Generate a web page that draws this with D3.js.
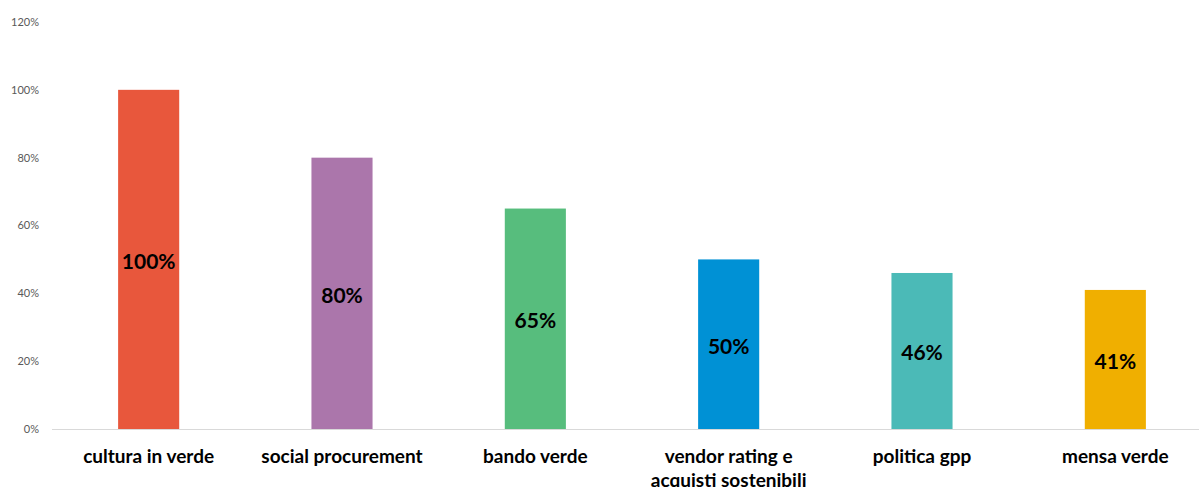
<!DOCTYPE html>
<html>
<head>
<meta charset="utf-8">
<script src="https://cdn.jsdelivr.net/npm/d3@7"></script>
<style>
  body { margin: 0; background: #fff; }
  svg { display: block; }
  .tick-label { font-family: "Lato", "Open Sans", sans-serif; font-size: 11px; fill: #595959; }
  .cat-label { font-family: "Lato", "Open Sans", sans-serif; font-size: 19px; font-weight: bold; fill: #000; }
  .val-label { font-family: "Lato", "Open Sans", sans-serif; font-size: 21px; font-weight: bold; fill: #000; }
</style>
</head>
<body>
<svg id="chart" width="1199" height="487"></svg>
<script>
// data
var categories = ['cultura in verde', 'social procurement', 'bando verde', 'vendor rating e|acquisti sostenibili', 'politica gpp', 'mensa verde'];
var values = [100, 80, 65, 50, 46, 41];
var valueLabels = ['100%', '80%', '65%', '50%', '46%', '41%'];
var colors = ['#E8573C', '#AB76AB', '#57BD7D', '#0091D5', '#4BBAB7', '#F0AF00'];
var yTicks = [0, 20, 40, 60, 80, 100, 120];

var svg = d3.select('#chart');

var x = d3.scaleBand()
    .domain(categories)
    .range([52, 1212])
    .paddingInner(0.684)
    .paddingOuter(0.342);

var y = d3.scaleLinear()
    .domain([0, 120])
    .range([429, 22]);

// y tick labels (no axis line, no grid)
svg.append('g').selectAll('text')
    .data(yTicks)
    .enter()
    .append('text')
    .attr('class', 'tick-label')
    .attr('x', 39)
    .attr('y', function(d) { return y(d); })
    .attr('dy', '0.35em')
    .attr('text-anchor', 'end')
    .text(function(d) { return d + '%'; });

// bars
svg.append('g').selectAll('rect')
    .data(values)
    .enter()
    .append('rect')
    .attr('x', function(d, i) { return x(categories[i]); })
    .attr('y', function(d) { return y(d); })
    .attr('width', x.bandwidth())
    .attr('height', function(d) { return y(0) - y(d); })
    .attr('fill', function(d, i) { return colors[i]; });

// baseline
svg.append('line')
    .attr('x1', 52)
    .attr('x2', 1199)
    .attr('y1', y(0) + 0.5)
    .attr('y2', y(0) + 0.5)
    .attr('stroke', '#D9D9D9')
    .attr('stroke-width', 1);

// value labels, centred in bar
svg.append('g').selectAll('text')
    .data(values)
    .enter()
    .append('text')
    .attr('class', 'val-label')
    .attr('x', function(d, i) { return x(categories[i]) + x.bandwidth() / 2; })
    .attr('y', function(d) { return (y(d) + y(0)) / 2 + 2; })
    .attr('dy', '0.35em')
    .attr('text-anchor', 'middle')
    .text(function(d, i) { return valueLabels[i]; });

// category labels (second line is cut at the bottom edge, as in the source)
var cat = svg.append('g').selectAll('text')
    .data(categories)
    .enter()
    .append('text')
    .attr('class', 'cat-label')
    .attr('text-anchor', 'middle')
    .attr('x', function(d) { return x(d) + x.bandwidth() / 2; })
    .attr('y', 463);

cat.selectAll('tspan')
    .data(function(d) {
        var c = x(d) + x.bandwidth() / 2;
        return d.split('|').map(function(t) { return { t: t, c: c }; });
    })
    .enter()
    .append('tspan')
    .attr('x', function(d) { return d.c; })
    .attr('dy', function(d, i) { return i === 0 ? 0 : 24; })
    .text(function(d) { return d.t; });
</script>
</body>
</html>
